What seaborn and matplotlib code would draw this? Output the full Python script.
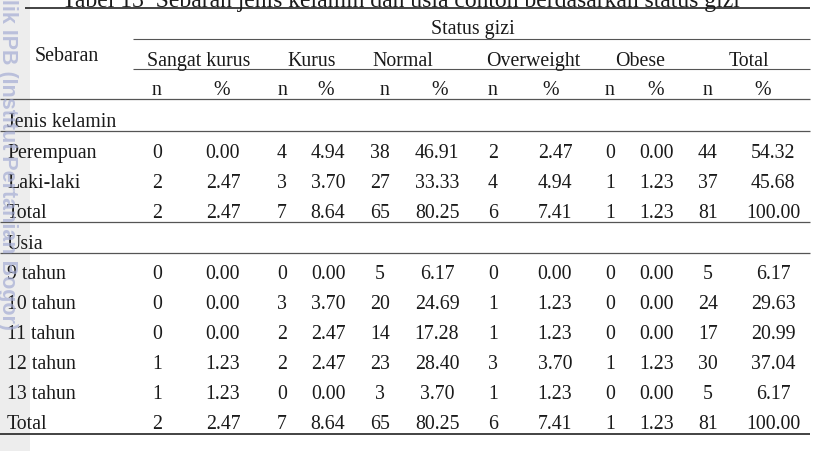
import numpy as np
import pandas as pd
import seaborn as sns
import matplotlib.pyplot as plt

# data
groups = ["Sangat kurus", "Kurus", "Normal", "Overweight", "Obese", "Total"]
sub_headers = ["n", "%"]

jk_labels = ["Perempuan", "Laki-laki", "Total"]
jk_n = [[0, 4, 38, 2, 0, 44],
        [2, 3, 27, 4, 1, 37],
        [2, 7, 65, 6, 1, 81]]
jk_pct = [[0.00, 4.94, 46.91, 2.47, 0.00, 54.32],
          [2.47, 3.70, 33.33, 4.94, 1.23, 45.68],
          [2.47, 8.64, 80.25, 7.41, 1.23, 100.00]]

usia_labels = ["9 tahun", "10 tahun", "11 tahun", "12 tahun", "13 tahun", "Total"]
usia_n = [[0, 0, 5, 0, 0, 5],
          [0, 3, 20, 1, 0, 24],
          [0, 2, 14, 1, 0, 17],
          [1, 2, 23, 3, 1, 30],
          [1, 0, 3, 1, 0, 5],
          [2, 7, 65, 6, 1, 81]]
usia_pct = [[0.00, 0.00, 6.17, 0.00, 0.00, 6.17],
            [0.00, 3.70, 24.69, 1.23, 0.00, 29.63],
            [0.00, 2.47, 17.28, 1.23, 0.00, 20.99],
            [1.23, 2.47, 28.40, 3.70, 1.23, 37.04],
            [1.23, 0.00, 3.70, 1.23, 0.00, 6.17],
            [2.47, 8.64, 80.25, 7.41, 1.23, 100.00]]

title = "Tabel 13  Sebaran jenis kelamin dan usia contoh berdasarkan status gizi"
watermark = "Hak cipta milik IPB (Institut Pertanian Bogor)"

# layout (pixel coordinates)
n_x = [157, 282, 380, 493, 610, 708]
pct_x = [223, 328, 437, 555, 657, 773]
group_x = [199, 312, 403, 533, 640, 749]
hdr_n_x = [157, 283, 385, 493, 610, 708]
hdr_pct_x = [222, 326, 440, 551, 656, 763]

sns.set_theme(style="white")
plt.rcParams['font.family'] = ['Liberation Serif', 'DejaVu Serif']
txt = dict(fontsize=14.3, color='#1a1a1a')

fig = plt.figure(figsize=(8.16, 4.52), dpi=100)
ax = fig.add_axes([0, 0, 1, 1])
ax.set_xlim(0, 816)
ax.set_ylim(452, 0)
ax.axis('off')

# watermark strip
ax.axvspan(0, 30, color='#ededed', zorder=0, lw=0)

# rules
dark = '#222222'
mid = '#555555'
ax.hlines(9, 25, 810, color=dark, lw=1.2)
ax.hlines(39.5, 133, 810, color=mid, lw=0.8)
ax.hlines(70, 133, 810, color=mid, lw=0.8)
ax.hlines([100, 132, 223, 254], 0, 810, color=mid, lw=0.9)
ax.hlines(435, 0, 810, color=dark, lw=1.2)

# title (cut at top)
ax.text(62, 6.5, title, fontsize=17, color='#1a1a1a', ha='left', va='baseline')

# header
ax.text(473, 34, "Status gizi", ha='center', va='baseline', **txt)
ax.text(35, 61, "Sebaran", ha='left', va='baseline', **txt)
for g, gx in zip(groups, group_x):
    ax.text(gx, 66, g, ha='center', va='baseline', **txt)
for a, b in zip(hdr_n_x, hdr_pct_x):
    ax.text(a, 95, sub_headers[0], ha='center', va='baseline', **txt)
    ax.text(b, 95, sub_headers[1], ha='center', va='baseline', **txt)


def draw_rows(labels, ns, pcts, y0):
    for i, lab in enumerate(labels):
        y = y0 + 30 * i
        ax.text(7, y, lab, ha='left', va='baseline', **txt)
        for j in range(len(groups)):
            ax.text(n_x[j], y, f"{ns[i][j]}", ha='center', va='baseline', **txt)
            ax.text(pct_x[j], y, f"{pcts[i][j]:.2f}", ha='center', va='baseline', **txt)


ax.text(7, 127, "Jenis kelamin", ha='left', va='baseline', **txt)
draw_rows(jk_labels, jk_n, jk_pct, 158)
ax.text(7, 249, "Usia", ha='left', va='baseline', **txt)
draw_rows(usia_labels, usia_n, usia_pct, 279)

# watermark text
ax.text(7, 330, watermark, rotation=-90, ha='center', va='bottom',
        fontsize=15.5, fontweight='bold', family=['Liberation Sans', 'DejaVu Sans'],
        color='#a4acd4', alpha=0.7, zorder=5)

sns.despine(left=True, bottom=True)
fig.savefig("out.png", dpi=100)
